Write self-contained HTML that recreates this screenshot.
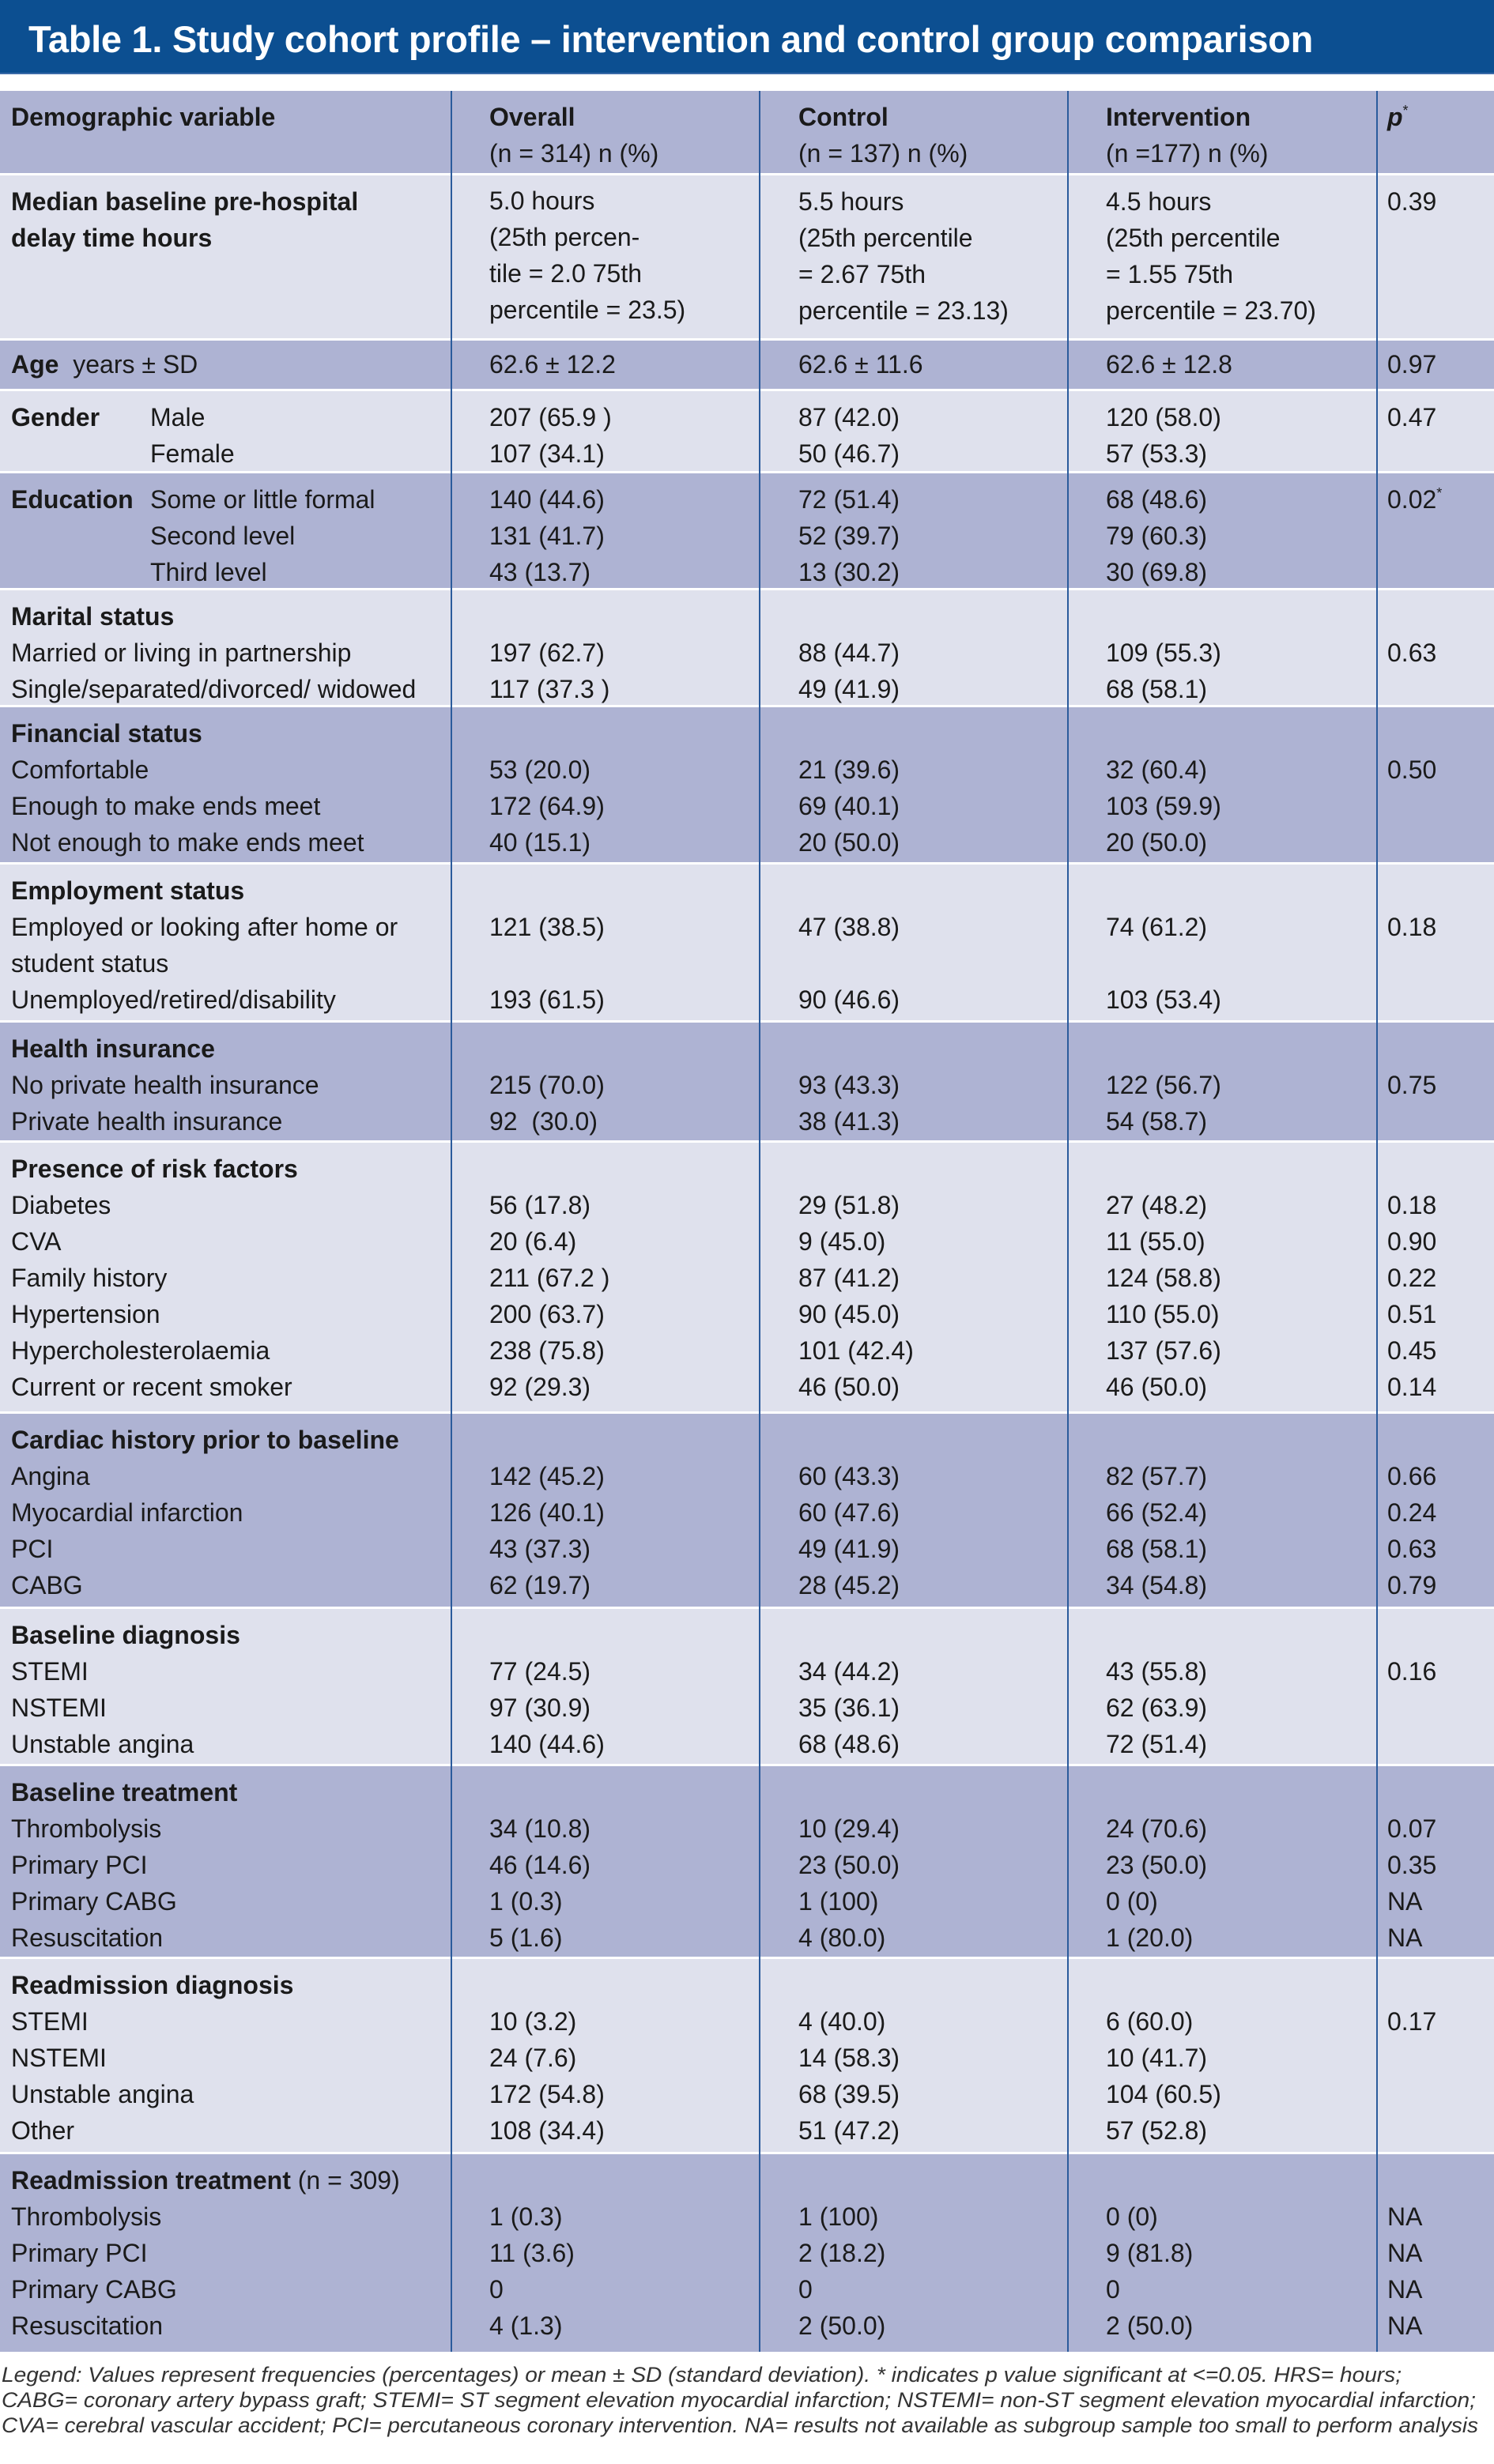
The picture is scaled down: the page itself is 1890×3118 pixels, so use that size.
<!DOCTYPE html>
<html><head><meta charset="utf-8">
<style>
*{margin:0;padding:0;box-sizing:border-box}
body{width:1890px;height:3118px;background:#fff;position:relative;overflow:hidden;font-family:"Liberation Sans",sans-serif;color:#1a1a1a}
.hdr{position:absolute;left:0;top:0;width:1890px;height:94px;background:#0c4f91;border-bottom:2px solid #3a6aa8}
.hdr div{position:absolute;left:36px;top:22px;font-size:47px;font-weight:bold;color:#fff;white-space:nowrap;letter-spacing:-0.3px}
.row{position:absolute;left:0;width:1890px}
.d{background:#aeb3d3}.l{background:#dfe1ed}
.c{position:absolute;top:10px;font-size:32px;line-height:46px;white-space:nowrap}
.c1{left:14px}.c2{left:619px}.c3{left:1010px}.c4{left:1399px}.c5{left:1755px}
.c>div{position:relative;height:46px}
.t{position:absolute;left:176px}
.v{position:absolute;top:115px;height:2861px;width:2px;background:#2b5b9c}
sup{font-size:18px;vertical-align:top;line-height:30px}
</style></head><body>
<div class="hdr"><div>Table 1. Study cohort profile – intervention and control group comparison</div></div>

<div class="row d" style="top:115px;height:104px">
<div class="c c1"><div><b>Demographic variable</b></div></div>
<div class="c c2"><div><b>Overall</b></div><div>(n = 314) n (%)</div></div>
<div class="c c3"><div><b>Control</b></div><div>(n = 137) n (%)</div></div>
<div class="c c4"><div><b>Intervention</b></div><div>(n =177) n (%)</div></div>
<div class="c c5"><div><b><i>p</i></b><sup>*</sup></div></div>
</div>

<div class="row l" style="top:222px;height:206px">
<div class="c c1"><div><b>Median baseline pre-hospital</b></div><div><b>delay time hours</b></div></div>
<div class="c c2" style="line-height:45px"><div>5.0 hours</div><div>(25th percen-</div><div>tile = 2.0 75th</div><div>percentile = 23.5)</div></div>
<div class="c c3"><div>5.5 hours</div><div>(25th percentile</div><div>= 2.67 75th</div><div>percentile = 23.13)</div></div>
<div class="c c4"><div>4.5 hours</div><div>(25th percentile</div><div>= 1.55 75th</div><div>percentile = 23.70)</div></div>
<div class="c c5"><div>0.39</div></div>
</div>

<div class="row d" style="top:431px;height:61px">
<div class="c c1" style="top:7px"><div><b>Age</b>&nbsp; years ± SD</div></div>
<div class="c c2" style="top:7px"><div>62.6 ± 12.2</div></div>
<div class="c c3" style="top:7px"><div>62.6 ± 11.6</div></div>
<div class="c c4" style="top:7px"><div>62.6 ± 12.8</div></div>
<div class="c c5" style="top:7px"><div>0.97</div></div>
</div>

<div class="row l" style="top:495px;height:101px">
<div class="c c1"><div><b>Gender</b><span class="t">Male</span></div><div><span class="t">Female</span></div></div>
<div class="c c2"><div>207 (65.9 )</div><div>107 (34.1)</div></div>
<div class="c c3"><div>87 (42.0)</div><div>50 (46.7)</div></div>
<div class="c c4"><div>120 (58.0)</div><div>57 (53.3)</div></div>
<div class="c c5"><div>0.47</div></div>
</div>

<div class="row d" style="top:599px;height:145px">
<div class="c c1"><div><b>Education</b><span class="t">Some or little formal</span></div><div><span class="t">Second level</span></div><div><span class="t">Third level</span></div></div>
<div class="c c2"><div>140 (44.6)</div><div>131 (41.7)</div><div>43 (13.7)</div></div>
<div class="c c3"><div>72 (51.4)</div><div>52 (39.7)</div><div>13 (30.2)</div></div>
<div class="c c4"><div>68 (48.6)</div><div>79 (60.3)</div><div>30 (69.8)</div></div>
<div class="c c5"><div>0.02<sup>*</sup></div></div>
</div>

<div class="row l" style="top:747px;height:145px">
<div class="c c1"><div><b>Marital status</b></div><div>Married or living in partnership</div><div>Single/separated/divorced/ widowed</div></div>
<div class="c c2"><div>&nbsp;</div><div>197 (62.7)</div><div>117 (37.3 )</div></div>
<div class="c c3"><div>&nbsp;</div><div>88 (44.7)</div><div>49 (41.9)</div></div>
<div class="c c4"><div>&nbsp;</div><div>109 (55.3)</div><div>68 (58.1)</div></div>
<div class="c c5"><div>&nbsp;</div><div>0.63</div></div>
</div>

<div class="row d" style="top:895px;height:196px">
<div class="c c1"><div><b>Financial status</b></div><div>Comfortable</div><div>Enough to make ends meet</div><div>Not enough to make ends meet</div></div>
<div class="c c2"><div>&nbsp;</div><div>53 (20.0)</div><div>172 (64.9)</div><div>40 (15.1)</div></div>
<div class="c c3"><div>&nbsp;</div><div>21 (39.6)</div><div>69 (40.1)</div><div>20 (50.0)</div></div>
<div class="c c4"><div>&nbsp;</div><div>32 (60.4)</div><div>103 (59.9)</div><div>20 (50.0)</div></div>
<div class="c c5"><div>&nbsp;</div><div>0.50</div></div>
</div>

<div class="row l" style="top:1094px;height:197px">
<div class="c c1"><div><b>Employment status</b></div><div>Employed or looking after home or</div><div>student status</div><div>Unemployed/retired/disability</div></div>
<div class="c c2"><div>&nbsp;</div><div>121 (38.5)</div><div>&nbsp;</div><div>193 (61.5)</div></div>
<div class="c c3"><div>&nbsp;</div><div>47 (38.8)</div><div>&nbsp;</div><div>90 (46.6)</div></div>
<div class="c c4"><div>&nbsp;</div><div>74 (61.2)</div><div>&nbsp;</div><div>103 (53.4)</div></div>
<div class="c c5"><div>&nbsp;</div><div>0.18</div></div>
</div>

<div class="row d" style="top:1294px;height:149px">
<div class="c c1"><div><b>Health insurance</b></div><div>No private health insurance</div><div>Private health insurance</div></div>
<div class="c c2"><div>&nbsp;</div><div>215 (70.0)</div><div>92&nbsp; (30.0)</div></div>
<div class="c c3"><div>&nbsp;</div><div>93 (43.3)</div><div>38 (41.3)</div></div>
<div class="c c4"><div>&nbsp;</div><div>122 (56.7)</div><div>54 (58.7)</div></div>
<div class="c c5"><div>&nbsp;</div><div>0.75</div></div>
</div>

<div class="row l" style="top:1446px;height:340px">
<div class="c c1"><div><b>Presence of risk factors</b></div><div>Diabetes</div><div>CVA</div><div>Family history</div><div>Hypertension</div><div>Hypercholesterolaemia</div><div>Current or recent smoker</div></div>
<div class="c c2"><div>&nbsp;</div><div>56 (17.8)</div><div>20 (6.4)</div><div>211 (67.2 )</div><div>200 (63.7)</div><div>238 (75.8)</div><div>92 (29.3)</div></div>
<div class="c c3"><div>&nbsp;</div><div>29 (51.8)</div><div>9 (45.0)</div><div>87 (41.2)</div><div>90 (45.0)</div><div>101 (42.4)</div><div>46 (50.0)</div></div>
<div class="c c4"><div>&nbsp;</div><div>27 (48.2)</div><div>11 (55.0)</div><div>124 (58.8)</div><div>110 (55.0)</div><div>137 (57.6)</div><div>46 (50.0)</div></div>
<div class="c c5"><div>&nbsp;</div><div>0.18</div><div>0.90</div><div>0.22</div><div>0.51</div><div>0.45</div><div>0.14</div></div>
</div>

<div class="row d" style="top:1789px;height:244px">
<div class="c c1"><div><b>Cardiac history prior to baseline</b></div><div>Angina</div><div>Myocardial infarction</div><div>PCI</div><div>CABG</div></div>
<div class="c c2"><div>&nbsp;</div><div>142 (45.2)</div><div>126 (40.1)</div><div>43 (37.3)</div><div>62 (19.7)</div></div>
<div class="c c3"><div>&nbsp;</div><div>60 (43.3)</div><div>60 (47.6)</div><div>49 (41.9)</div><div>28 (45.2)</div></div>
<div class="c c4"><div>&nbsp;</div><div>82 (57.7)</div><div>66 (52.4)</div><div>68 (58.1)</div><div>34 (54.8)</div></div>
<div class="c c5"><div>&nbsp;</div><div>0.66</div><div>0.24</div><div>0.63</div><div>0.79</div></div>
</div>

<div class="row l" style="top:2036px;height:196px">
<div class="c c1"><div><b>Baseline diagnosis</b></div><div>STEMI</div><div>NSTEMI</div><div>Unstable angina</div></div>
<div class="c c2"><div>&nbsp;</div><div>77 (24.5)</div><div>97 (30.9)</div><div>140 (44.6)</div></div>
<div class="c c3"><div>&nbsp;</div><div>34 (44.2)</div><div>35 (36.1)</div><div>68 (48.6)</div></div>
<div class="c c4"><div>&nbsp;</div><div>43 (55.8)</div><div>62 (63.9)</div><div>72 (51.4)</div></div>
<div class="c c5"><div>&nbsp;</div><div>0.16</div></div>
</div>

<div class="row d" style="top:2235px;height:241px">
<div class="c c1"><div><b>Baseline treatment</b></div><div>Thrombolysis</div><div>Primary PCI</div><div>Primary CABG</div><div>Resuscitation</div></div>
<div class="c c2"><div>&nbsp;</div><div>34 (10.8)</div><div>46 (14.6)</div><div>1 (0.3)</div><div>5 (1.6)</div></div>
<div class="c c3"><div>&nbsp;</div><div>10 (29.4)</div><div>23 (50.0)</div><div>1 (100)</div><div>4 (80.0)</div></div>
<div class="c c4"><div>&nbsp;</div><div>24 (70.6)</div><div>23 (50.0)</div><div>0 (0)</div><div>1 (20.0)</div></div>
<div class="c c5"><div>&nbsp;</div><div>0.07</div><div>0.35</div><div>NA</div><div>NA</div></div>
</div>

<div class="row l" style="top:2479px;height:244px">
<div class="c c1"><div><b>Readmission diagnosis</b></div><div>STEMI</div><div>NSTEMI</div><div>Unstable angina</div><div>Other</div></div>
<div class="c c2"><div>&nbsp;</div><div>10 (3.2)</div><div>24 (7.6)</div><div>172 (54.8)</div><div>108 (34.4)</div></div>
<div class="c c3"><div>&nbsp;</div><div>4 (40.0)</div><div>14 (58.3)</div><div>68 (39.5)</div><div>51 (47.2)</div></div>
<div class="c c4"><div>&nbsp;</div><div>6 (60.0)</div><div>10 (41.7)</div><div>104 (60.5)</div><div>57 (52.8)</div></div>
<div class="c c5"><div>&nbsp;</div><div>0.17</div></div>
</div>

<div class="row d" style="top:2726px;height:250px">
<div class="c c1"><div><b>Readmission treatment</b> (n = 309)</div><div>Thrombolysis</div><div>Primary PCI</div><div>Primary CABG</div><div>Resuscitation</div></div>
<div class="c c2"><div>&nbsp;</div><div>1 (0.3)</div><div>11 (3.6)</div><div>0</div><div>4 (1.3)</div></div>
<div class="c c3"><div>&nbsp;</div><div>1 (100)</div><div>2 (18.2)</div><div>0</div><div>2 (50.0)</div></div>
<div class="c c4"><div>&nbsp;</div><div>0 (0)</div><div>9 (81.8)</div><div>0</div><div>2 (50.0)</div></div>
<div class="c c5"><div>&nbsp;</div><div>NA</div><div>NA</div><div>NA</div><div>NA</div></div>
</div>

<div class="v" style="left:570px"></div>
<div class="v" style="left:960px"></div>
<div class="v" style="left:1350px"></div>
<div class="v" style="left:1741px"></div>

<svg style="position:absolute;left:0;top:2980px" width="1890" height="130">
<g font-family="Liberation Sans, sans-serif" font-style="italic" font-size="27" fill="#333">
<text x="2" y="34" textLength="1771" lengthAdjust="spacingAndGlyphs">Legend: Values represent frequencies (percentages) or mean ± SD (standard deviation). * indicates p value significant at &lt;=0.05. HRS= hours;</text>
<text x="2" y="66" textLength="1865" lengthAdjust="spacingAndGlyphs">CABG= coronary artery bypass graft; STEMI= ST segment elevation myocardial infarction; NSTEMI= non-ST segment elevation myocardial infarction;</text>
<text x="2" y="98" textLength="1868" lengthAdjust="spacingAndGlyphs">CVA= cerebral vascular accident; PCI= percutaneous coronary intervention. NA= results not available as subgroup sample too small to perform analysis</text>
</g></svg>
</body></html>
